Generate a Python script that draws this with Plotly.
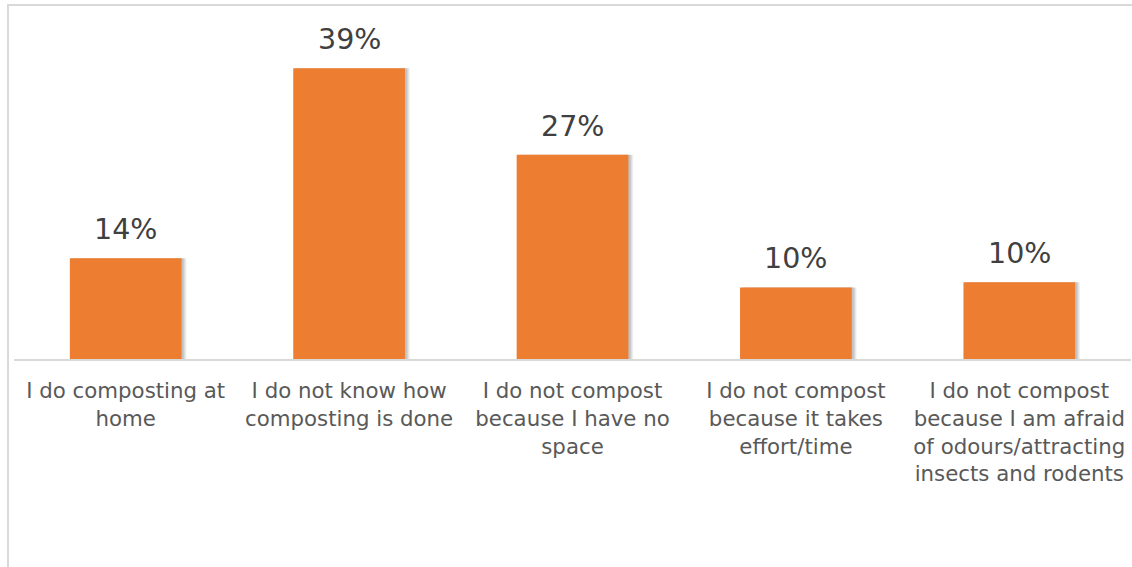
import plotly.graph_objects as go

# Survey responses on home composting (share of respondents, %)
categories = [
    "I do composting at<br>home",
    "I do not know how<br>composting is done",
    "I do not compost<br>because I have no<br>space",
    "I do not compost<br>because it takes<br>effort/time",
    "I do not compost<br>because I am afraid<br>of odours/attracting<br>insects and rodents",
]
shares = [13.5, 39.0, 27.4, 9.6, 10.3]

BAR_COLOR = "#ED7D31"
W, H = 1132, 567
M_L, M_R, M_T, M_B = 14, 1, 20, 208
plot_w = W - M_L - M_R
plot_h = H - M_T - M_B
cat_px = plot_w / len(categories)
x_idx = list(range(len(categories)))

fig = go.Figure()

# soft drop shadow to the right of each bar
for dx, alpha in [(5, 0.05), (4, 0.06), (3, 0.07), (2, 0.08)]:
    fig.add_trace(go.Bar(
        x=x_idx, y=shares, width=0.5, offset=-0.25 + dx / cat_px,
        marker=dict(color=f"rgba(0,0,0,{alpha})", line=dict(width=0)),
        hoverinfo="skip", showlegend=False,
    ))

fig.add_trace(go.Bar(
    x=x_idx, y=shares, width=0.5, offset=-0.25,
    marker=dict(color=BAR_COLOR, line=dict(width=0)),
    hovertemplate="%{y:.0f}%<extra></extra>", showlegend=False,
))

# value labels above the bars
for i, v in zip(x_idx, shares):
    fig.add_annotation(
        x=i, y=v, text=f"{v:.0f}%", showarrow=False,
        yanchor="bottom", yshift=10,
        font=dict(family="DejaVu Sans", size=28.5, color="#404040"),
    )

# light frame around the chart area
fig.add_shape(
    type="rect", xref="paper", yref="paper",
    x0=(8 - M_L) / plot_w, x1=1.05,
    y0=-1.0, y1=1 + (M_T - 5) / plot_h,
    line=dict(color="#D9D9D9", width=2), fillcolor="rgba(0,0,0,0)",
    layer="below",
)

fig.update_layout(
    width=W, height=H,
    margin=dict(l=M_L, r=M_R, t=M_T, b=M_B),
    paper_bgcolor="white", plot_bgcolor="white",
    barmode="overlay", bargap=0.5,
    xaxis=dict(
        range=[-0.5, len(categories) - 0.5],
        tickmode="array", tickvals=x_idx, ticktext=categories,
        showgrid=False, zeroline=False,
        showline=True, linecolor="#D9D9D9", linewidth=1.5,
        ticks="", ticklabelstandoff=12,
        tickfont=dict(family="DejaVu Sans", size=21.3, color="#595959"),
        fixedrange=True,
    ),
    yaxis=dict(
        range=[0, plot_h / (290.7 / 39.0)],
        visible=False, showgrid=False, zeroline=False, fixedrange=True,
    ),
)

fig.write_html("out.html")
